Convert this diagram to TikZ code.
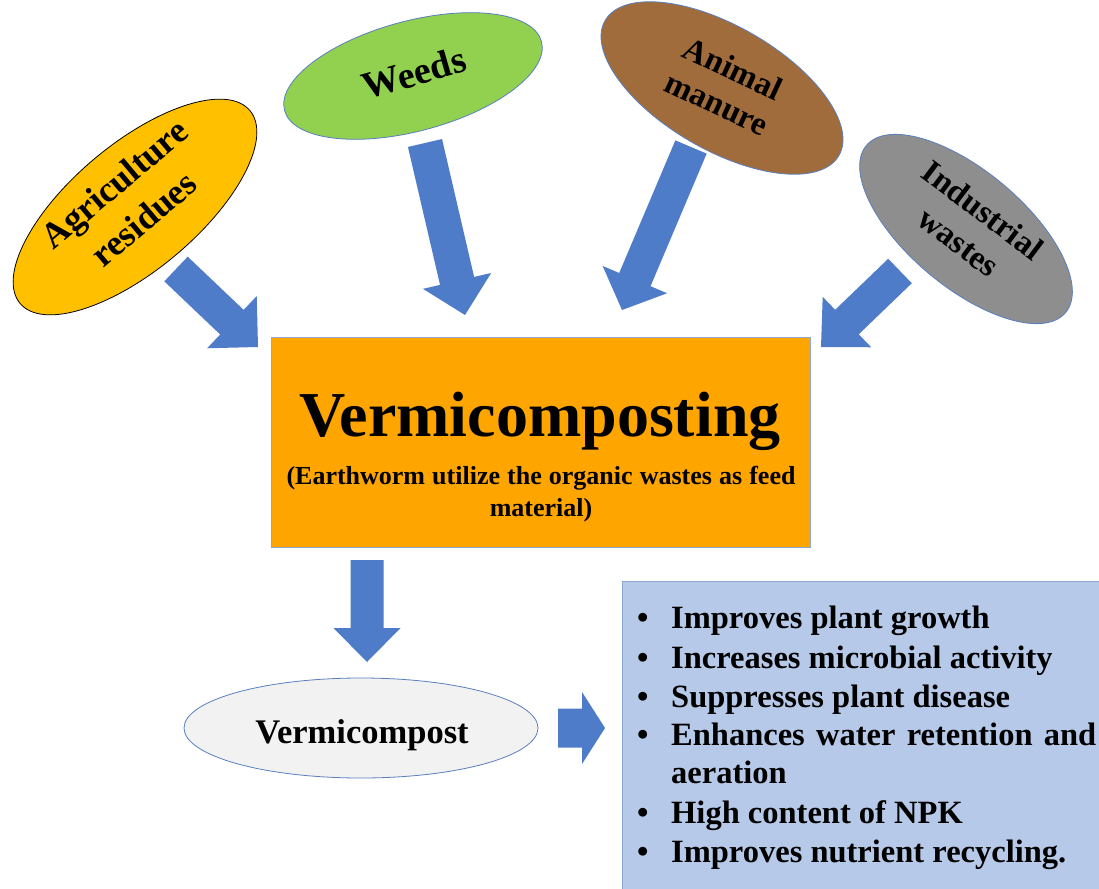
\documentclass[tikz,border=0pt]{standalone}
\usepackage{fontspec}
\setmainfont{Liberation Serif}
\usetikzlibrary{shapes.geometric,calc}
\definecolor{ablue}{HTML}{4F7CC9}
\definecolor{edgeblue}{HTML}{5A7FBE}
\definecolor{agriyellow}{HTML}{FFC000}
\definecolor{weedgreen}{HTML}{92D050}
\definecolor{manurebrown}{HTML}{A06C3B}
\definecolor{indgray}{HTML}{8E8E8E}
\definecolor{boxorange}{HTML}{FFA500}
\definecolor{boxedge}{HTML}{8FA6CF}
\definecolor{listblue}{HTML}{B7C9E8}
\definecolor{compgray}{HTML}{F2F2F2}
\newcommand{\blockarr}[5]{%
  \coordinate (hb) at ($(#2)!#5!(#1)$);
  \fill[ablue] ($(#1)!#3!90:(#2)$) -- ($(hb)!#3!90:(#2)$) -- ($(hb)!#4!90:(#2)$) -- (#2)
    -- ($(hb)!#4!-90:(#2)$) -- ($(hb)!#3!-90:(#2)$) -- ($(#1)!#3!-90:(#2)$) -- cycle;}
\tikzset{
  blob/.style={ellipse, inner sep=0pt, draw=edgeblue, line width=0.8pt},
  blobtext/.style={align=center, inner sep=0pt},
  listline/.style={anchor=base west, inner sep=0pt, font=\fontsize{32.5}{39}\selectfont\bfseries},
}
\begin{document}
\begin{tikzpicture}[x=1pt,y=-1pt]
\useasboundingbox (0,0) rectangle (1099,888);
\fill[white] (0,0) rectangle (1099,888);
\clip (0,0) rectangle (1099,888);

% source ellipses
\node[blob, draw=black, fill=agriyellow, minimum width=300pt, minimum height=126pt, rotate=40] (agri) at (135,207) {};
\node[blobtext, rotate=40, font=\fontsize{36}{46}\selectfont\bfseries] (agrit) at (129,201) {Agriculture\\residues};

\node[blob, fill=weedgreen, minimum width=266pt, minimum height=110pt, rotate=15] (weeds) at (413,76) {};
\node[blobtext, rotate=16, font=\fontsize{38}{44}\selectfont\bfseries] (weedst) at (414,73) {Weeds};

\node[blob, fill=manurebrown, minimum width=270pt, minimum height=124pt, rotate=-30] (manure) at (722,88) {};
\node[blobtext, rotate=-25, font=\fontsize{33}{38}\selectfont\bfseries] (manuret) at (725,86) {Animal\\manure};

\node[blob, fill=indgray, minimum width=260pt, minimum height=116pt, rotate=-40] (ind) at (966,229) {};
\node[blobtext, rotate=-37, font=\fontsize{33}{40}\selectfont\bfseries] (indt) at (971,226) {Industrial\\wastes};

% central box
\node[draw=boxedge, line width=0.8pt, fill=boxorange, minimum width=539pt, minimum height=210pt, inner sep=0pt] (vc) at (540.5,442) {};
\node[anchor=base, inner sep=0pt, font=\fontsize{64}{70}\selectfont\bfseries] (vct) at (540,436) {Vermicomposting};
\node[anchor=base, inner sep=0pt, font=\fontsize{26}{30}\selectfont\bfseries] (vcs1) at (541,484) {\makebox[509pt][s]{(Earthworm utilize the organic wastes as feed}};
\node[anchor=base, inner sep=0pt, font=\fontsize{26}{30}\selectfont\bfseries] (vcs2) at (541,516) {material)};

% vermicompost
\node[blob, fill=compgray, minimum width=354pt, minimum height=100pt] (comp) at (361,728) {};
\node[anchor=base, inner sep=0pt, font=\fontsize{34.5}{40}\selectfont\bfseries] (compt) at (362,743) {Vermicompost};

% benefits box
\node[draw=boxedge, line width=0.8pt, fill=listblue, minimum width=500pt, minimum height=330pt, inner sep=0pt, anchor=north west] (ben) at (622,581) {};
\node[listline] (b1) at (637,628) {\makebox[34pt][l]{\textbullet}Improves plant growth};
\node[listline] (b2) at (637,668) {\makebox[34pt][l]{\textbullet}Increases microbial activity};
\node[listline] (b3) at (637,707) {\makebox[34pt][l]{\textbullet}Suppresses plant disease};
\node[listline] (b4) at (637,745) {\makebox[34pt][l]{\textbullet}\makebox[425pt][s]{Enhances water retention and}};
\node[listline] (b5) at (671,783) {aeration};
\node[listline] (b6) at (637,823) {\makebox[34pt][l]{\textbullet}High content of NPK};
\node[listline] (b7) at (637,862) {\makebox[34pt][l]{\textbullet}Improves nutrient recycling.};

% arrow end points
\coordinate (a1s) at (176,269); \coordinate (a1e) at (258,347);
\coordinate (a2s) at (425,143); \coordinate (a2e) at (465,315);
\coordinate (a3s) at (691,147); \coordinate (a3e) at (622,310);
\coordinate (a4s) at (900,271); \coordinate (a4e) at (821,347);
\coordinate (a5s) at (367,560); \coordinate (a5e) at (367,662);
\coordinate (a6s) at (558,728); \coordinate (a6e) at (605,728);

\blockarr{a1s}{a1e}{17pt}{36pt}{36pt}
\blockarr{a2s}{a2e}{17.5pt}{35pt}{35pt}
\blockarr{a3s}{a3e}{17pt}{35pt}{33pt}
\blockarr{a4s}{a4e}{17pt}{35pt}{36pt}
\blockarr{a5s}{a5e}{16.5pt}{33.5pt}{34pt}
\blockarr{a6s}{a6e}{19.5pt}{36pt}{23pt}
\end{tikzpicture}
\end{document}
